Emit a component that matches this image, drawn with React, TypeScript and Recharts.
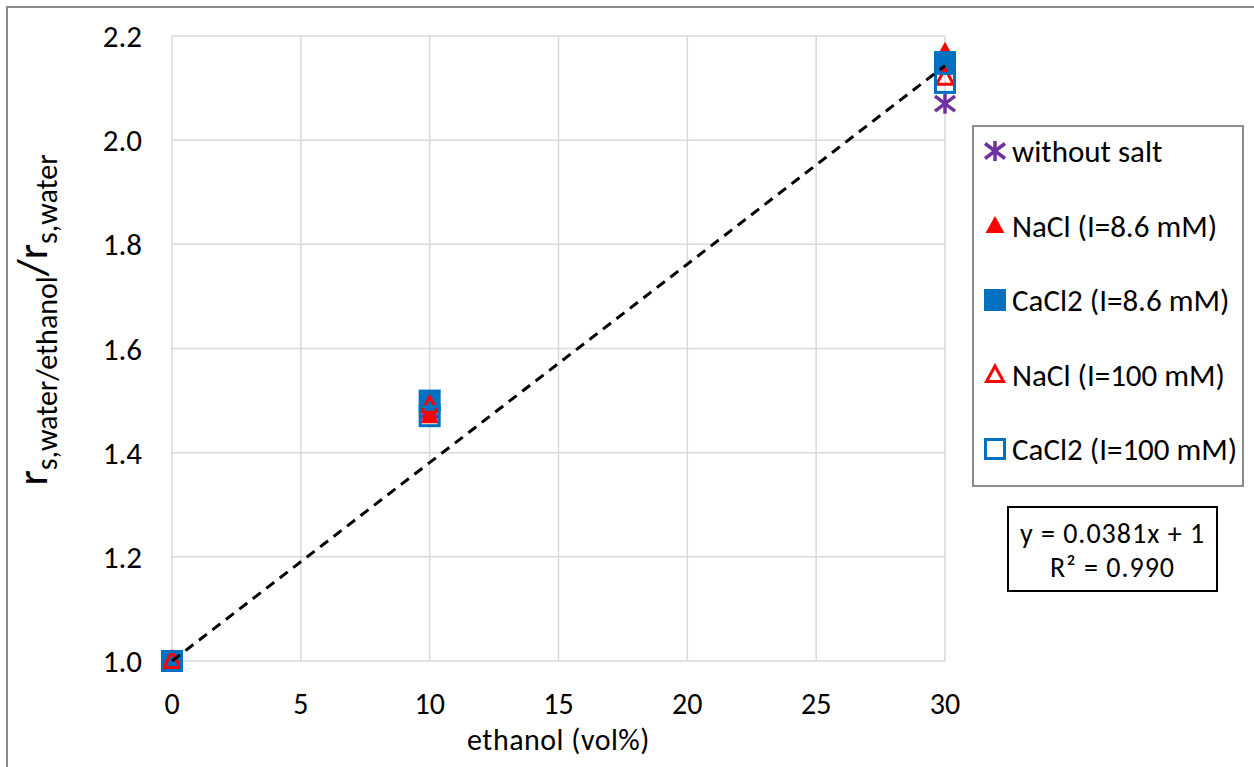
import {
    ScatterChart,
    Scatter,
    XAxis,
    YAxis,
    CartesianGrid,
    Legend,
    Label,
} from 'recharts';

const FONT = "Carlito, Calibri, Lato, sans-serif";

// ethanol content (vol%)
const ethanol = [0, 10, 30];

// r_s ratio per salt condition
const withoutSalt = [1.0, 1.48, 2.07];
const nacl86 = [1.0, 1.47, 2.17];
const cacl86 = [1.0, 1.5, 2.15];
const nacl100 = [1.0, 1.49, 2.12];
const cacl100 = [1.0, 1.47, 2.11];

// linear fit y = 0.0381x + 1, end points
const trendX = [0, 30];
const trendY = [1.0, 2.143];

const xTicks = [0, 5, 10, 15, 20, 25, 30];
const yTicks = [1.0, 1.2, 1.4, 1.6, 1.8, 2.0, 2.2];

type Kind = 'star' | 'triFill' | 'sqFill' | 'triOpen' | 'sqOpen';

const series: { name: string; values: number[]; kind: Kind }[] = [
    { name: 'without salt', values: withoutSalt, kind: 'star' },
    { name: 'NaCl (I=8.6 mM)', values: nacl86, kind: 'triFill' },
    { name: 'CaCl2 (I=8.6 mM)', values: cacl86, kind: 'sqFill' },
    { name: 'NaCl (I=100 mM)', values: nacl100, kind: 'triOpen' },
    { name: 'CaCl2 (I=100 mM)', values: cacl100, kind: 'sqOpen' },
];

const toPoints = (xs: number[], ys: number[]) => xs.map((x, i) => ({ x, y: ys[i] }));

const Marker = ({ kind, cx, cy }: { kind: Kind; cx: number; cy: number }) => {
    switch (kind) {
        case 'star':
            return (
                <g stroke="#7030a0" strokeWidth={3.5}>
                    <line x1={cx} y1={cy - 10} x2={cx} y2={cy + 10} />
                    <line x1={cx - 10} y1={cy - 7.5} x2={cx + 10} y2={cy + 7.5} />
                    <line x1={cx - 10} y1={cy + 7.5} x2={cx + 10} y2={cy - 7.5} />
                </g>
            );
        case 'triFill':
            return (
                <polygon
                    points={`${cx},${cy - 10} ${cx + 9.5},${cy + 7} ${cx - 9.5},${cy + 7}`}
                    fill="#ff0000"
                />
            );
        case 'sqFill':
            return <rect x={cx - 11} y={cy - 11} width={22} height={22} fill="#0070c0" />;
        case 'triOpen':
            return (
                <polygon
                    points={`${cx},${cy - 9} ${cx + 8.5},${cy + 6.5} ${cx - 8.5},${cy + 6.5}`}
                    fill="none"
                    stroke="#ff0000"
                    strokeWidth={3}
                />
            );
        case 'sqOpen':
            return (
                <rect
                    x={cx - 9.5}
                    y={cy - 9.5}
                    width={19}
                    height={19}
                    fill="none"
                    stroke="#0070c0"
                    strokeWidth={3}
                />
            );
    }
    return null;
};

const LegendBox = () => (
    <div
        style={{
            width: 272,
            height: 362,
            boxSizing: 'border-box',
            border: '2px solid #8c8c8c',
            background: '#fff',
            position: 'relative',
            fontFamily: FONT,
        }}
    >
        {series.map((s, i) => (
            <div
                key={s.name}
                style={{
                    position: 'absolute',
                    left: 9,
                    top: 24 + i * 74.5 - 20,
                    height: 40,
                    display: 'flex',
                    alignItems: 'center',
                    whiteSpace: 'nowrap',
                    fontSize: 31,
                    color: '#000',
                }}
            >
                <svg width={24} height={24} style={{ marginRight: 5 }}>
                    <Marker kind={s.kind} cx={12} cy={12} />
                </svg>
                {s.name}
            </div>
        ))}
    </div>
);

export default function App() {
    return (
        <div
            style={{
                position: 'absolute',
                left: 0,
                top: 0,
                width: 1254,
                height: 767,
                overflow: 'hidden',
                background: '#fff',
                fontFamily: FONT,
            }}
        >
            <div
                style={{
                    position: 'absolute',
                    left: 6,
                    top: 6,
                    width: 1300,
                    height: 800,
                    border: '2px solid #8c8c8c',
                }}
            />
            <ScatterChart
                width={1254}
                height={767}
                margin={{ top: 36, right: 309, bottom: 46, left: 0 }}
                style={{ position: 'absolute', left: 0, top: 0 }}
            >
                <CartesianGrid stroke="#d9d9d9" strokeWidth={1.5} />
                <XAxis
                    type="number"
                    dataKey="x"
                    domain={[0, 30]}
                    ticks={xTicks}
                    height={60}
                    axisLine={false}
                    tickLine={false}
                    tickSize={0}
                    tickMargin={32}
                    tick={{ fill: '#000', fontSize: 30, fontFamily: FONT }}
                >
                    <Label
                        value="ethanol (vol%)"
                        position="bottom"
                        offset={8}
                        style={{ fill: '#000', fontSize: 30, fontFamily: FONT, letterSpacing: 0.5 }}
                    />
                </XAxis>
                <YAxis
                    type="number"
                    dataKey="y"
                    domain={[1.0, 2.2]}
                    ticks={yTicks}
                    width={172}
                    axisLine={false}
                    tickLine={false}
                    tickSize={0}
                    tickMargin={30}
                    tickFormatter={(v: number) => v.toFixed(1)}
                    tick={{ fill: '#000', fontSize: 31, fontFamily: FONT }}
                />
                {series.map((s) => (
                    <Scatter
                        key={s.name}
                        name={s.name}
                        data={toPoints(ethanol, s.values)}
                        isAnimationActive={false}
                        shape={(p: any) => <Marker kind={s.kind} cx={p.cx} cy={p.cy} />}
                    />
                ))}
                <Scatter
                    name="trend"
                    data={toPoints(trendX, trendY)}
                    isAnimationActive={false}
                    legendType="none"
                    line={{ stroke: '#000', strokeWidth: 3, strokeDasharray: '10 7' }}
                    shape={() => <g />}
                />
                <Legend
                    layout="vertical"
                    align="center"
                    verticalAlign="middle"
                    content={() => <LegendBox />}
                    wrapperStyle={{ position: 'absolute', left: 972, top: 125, width: 272, height: 362 }}
                />
            </ScatterChart>
            <div
                style={{
                    position: 'absolute',
                    left: 36,
                    top: 320,
                    width: 0,
                    height: 0,
                }}
            >
                <div
                    style={{
                        position: 'absolute',
                        left: 0,
                        top: 0,
                        transform: 'translate(-50%, -50%) rotate(-90deg)',
                        whiteSpace: 'nowrap',
                        fontSize: 44,
                        color: '#000',
                        lineHeight: 1,
                    }}
                >
                    r<sub style={{ fontSize: 30 }}>s,water/ethanol</sub>/r
                    <sub style={{ fontSize: 30 }}>s,water</sub>
                </div>
            </div>
            <div
                style={{
                    position: 'absolute',
                    left: 1007,
                    top: 506,
                    width: 211,
                    height: 86,
                    boxSizing: 'border-box',
                    border: '2px solid #000',
                    background: '#fff',
                    color: '#000',
                    whiteSpace: 'nowrap',
                    fontSize: 28,
                    letterSpacing: 1,
                    textAlign: 'center',
                }}
            >
                <div style={{ position: 'absolute', left: 0, right: 0, top: 10, lineHeight: '32px' }}>
                    y = 0.0381x + 1
                </div>
                <div style={{ position: 'absolute', left: 0, right: 0, top: 44, lineHeight: '32px' }}>
                    R² = 0.990
                </div>
            </div>
        </div>
    );
}
